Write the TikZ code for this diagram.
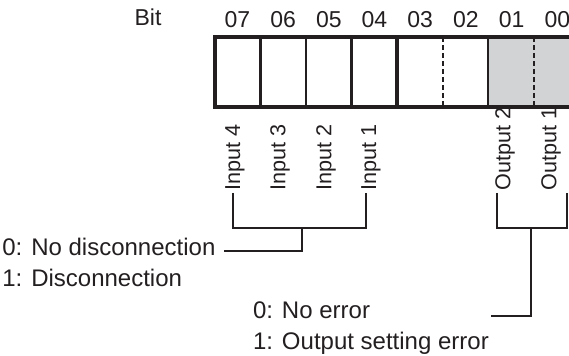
\documentclass[tikz,border=0pt]{standalone}
\usepackage{fontspec}
\setmainfont{Liberation Sans}
\usepackage{tikz}
\usetikzlibrary{calc}
\usepackage{xcolor}

\definecolor{ink}{RGB}{35,31,32}
\definecolor{regfill}{RGB}{209,211,212}

\tikzset{
    frameline/.style={line width=2pt, ink},
    cellline/.style={line width=1.3pt, ink},
    halfline/.style={line width=1.1pt, ink, dash pattern=on 2.6pt off 1.4pt},
    bracketline/.style={line width=0.9pt, ink},
    bitnum/.style={anchor=base, inner sep=0pt, text=ink, font=\fontsize{11.5}{13}\selectfont},
    vlabel/.style={rotate=90, anchor=west, inner sep=0pt, text=ink, font=\fontsize{10.8}{13}\selectfont},
    note/.style={anchor=base west, inner sep=0pt, text=ink, font=\fontsize{12}{14}\selectfont}
}

\begin{document}
\begin{tikzpicture}[x=0.5pt, y=-0.5pt]
    \useasboundingbox (0,0) rectangle (569,356);
    \clip (0,0) rectangle (569,356);

    % 1. Fill the two output bits and draw the register frame
    \fill[regfill] (488,37) rectangle (580,107);
    \foreach \x in {260.2, 305.9, 351.6, 488} {
        \draw[cellline] (\x,37) -- (\x,107);
    }
    \draw[frameline] (397.3,37) -- (397.3,107);
    \draw[halfline] (443,37) -- (443,107);
    \draw[halfline] (533.7,37) -- (533.7,107);
    \draw[frameline] (580,37) -- (214.5,37) -- (214.5,107) -- (580,107);

    % 2. Bit numbers above the cells
    \node[bitnum] (bit) at (148,26) {Bit};
    \foreach \b [count=\i from 0] in {07,06,05,04,03,02,01,00} {
        \node[bitnum] (b\b) at ({237.4+45.7*\i},28) {\b};
    }

    % 3. Names of the bits, written upwards
    \node[vlabel] (in4) at (235,191) {Input 4};
    \node[vlabel] (in3) at (280,191) {Input 3};
    \node[vlabel] (in2) at (326,191) {Input 2};
    \node[vlabel] (in1) at (371,191) {Input 1};
    \node[vlabel] (out2) at (505,191) {Output 2};
    \node[vlabel] (out1) at (551,191) {Output 1};

    % 4. Meaning of the values
    \node[note] (nodis) at (2,256) {0: No disconnection};
    \node[note] (dis) at (2,287) {1: Disconnection};
    \node[note] (noerr) at (252.7,319) {0: No error};
    \node[note] (seterr) at (252.7,350) {1: Output setting error};

    % 5. Brackets from the bit names to their meaning
    \coordinate (injoin) at (301.7,228);
    \coordinate (inend) at (224,250.7);
    \coordinate (outjoin) at (531,228);
    \coordinate (outend) at (491,316);
    \draw[bracketline] (233,193) -- (233,228) -- (366,228) -- (366,193);
    \draw[bracketline] (injoin) |- (inend);
    \draw[bracketline] (497,193) -- (497,228) -- (567,228) -- (567,193);
    \draw[bracketline] (outjoin) |- (outend);
\end{tikzpicture}
\end{document}
